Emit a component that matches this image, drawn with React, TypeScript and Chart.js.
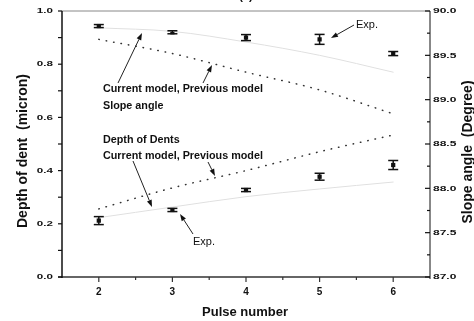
import React, { useEffect, useRef } from 'react';
import { Chart, registerables } from 'chart.js';
Chart.register(...registerables);

// ---- data ----
const pulses = [2, 3, 4, 5, 6];
const slopeExp = [89.83, 89.76, 89.7, 89.68, 89.52];
const slopeExpErr = [0.017, 0.017, 0.034, 0.056, 0.023];
const slopeCurrent = [89.81, 89.77, 89.65, 89.5, 89.31];
const slopePrevious = [89.68, 89.52, 89.31, 89.11, 88.84];
const depthExp = [0.212, 0.252, 0.327, 0.377, 0.421];
const depthExpErr = [0.015, 0.006, 0.006, 0.013, 0.017];
const depthCurrent = [0.223, 0.263, 0.302, 0.331, 0.357];
const depthPrevious = [0.256, 0.335, 0.4, 0.471, 0.534];
const xTicks = [2, 3, 4, 5, 6];
const depthTicks = [0, 0.2, 0.4, 0.6, 0.8, 1.0];
const slopeTicks = [87.0, 87.5, 88.0, 88.5, 89.0, 89.5, 90.0];

const FONT = '"Liberation Sans", Arial, sans-serif';

const mids = (a: number[]) => a.slice(1).map((v, i) => (v + a[i]) / 2);

function seg(ctx: CanvasRenderingContext2D, x1: number, y1: number, x2: number, y2: number, color: string, w: number) {
  ctx.save();
  ctx.strokeStyle = color;
  ctx.lineWidth = w;
  ctx.beginPath();
  ctx.moveTo(x1, y1);
  ctx.lineTo(x2, y2);
  ctx.stroke();
  ctx.restore();
}

function arrow(ctx: CanvasRenderingContext2D, x1: number, y1: number, x2: number, y2: number) {
  const ang = Math.atan2(y2 - y1, x2 - x1);
  const L = 7, W = 2.5;
  const bx = x2 - L * Math.cos(ang), by = y2 - L * Math.sin(ang);
  seg(ctx, x1, y1, bx, by, '#222', 1);
  ctx.save();
  ctx.fillStyle = '#111';
  ctx.beginPath();
  ctx.moveTo(x2, y2);
  ctx.lineTo(bx + W * Math.sin(ang), by - W * Math.cos(ang));
  ctx.lineTo(bx - W * Math.sin(ang), by + W * Math.cos(ang));
  ctx.closePath();
  ctx.fill();
  ctx.restore();
}

function text(ctx: CanvasRenderingContext2D, s: string, x: number, y: number, font: string, align: CanvasTextAlign, baseline: CanvasTextBaseline, sx = 1, rot = 0) {
  ctx.save();
  ctx.translate(x, y);
  if (rot) ctx.rotate(rot);
  ctx.scale(sx, 1);
  ctx.font = font;
  ctx.fillStyle = '#111';
  ctx.textAlign = align;
  ctx.textBaseline = baseline;
  ctx.fillText(s, 0, 0);
  ctx.restore();
}

const decorPlugin = {
  id: 'decor',
  afterDatasetsDraw(chart: any) {
    const ctx = chart.ctx as CanvasRenderingContext2D;
    const xs = chart.scales.x, yl = chart.scales.y, yr = chart.scales.y2;
    const bars = (vals: number[], errs: number[], sc: any) => {
      vals.forEach((v, i) => {
        const px = xs.getPixelForValue(pulses[i]);
        const t = sc.getPixelForValue(v + errs[i]);
        const b = sc.getPixelForValue(v - errs[i]);
        seg(ctx, px, t, px, b, '#111', 1.5);
        seg(ctx, px - 5, t, px + 5, t, '#111', 1.5);
        seg(ctx, px - 5, b, px + 5, b, '#111', 1.5);
      });
    };
    bars(slopeExp, slopeExpErr, yr);
    bars(depthExp, depthExpErr, yl);
  },
  afterDraw(chart: any) {
    const ctx = chart.ctx as CanvasRenderingContext2D;
    const ca = chart.chartArea;
    const xs = chart.scales.x, yl = chart.scales.y, yr = chart.scales.y2;

    // frame
    seg(ctx, ca.left, ca.top, ca.right, ca.top, '#888', 1);
    seg(ctx, ca.left - 4, ca.bottom, ca.right, ca.bottom, '#666', 2);
    seg(ctx, ca.left, ca.top, ca.left, ca.bottom + 1, '#111', 1.5);
    seg(ctx, ca.right, ca.top, ca.right, ca.bottom + 2, '#111', 1);

    // left ticks + labels
    depthTicks.forEach((v) => {
      const py = yl.getPixelForValue(v);
      seg(ctx, ca.left - 4, py, ca.left, py, '#111', 1.2);
      text(ctx, v.toFixed(1), ca.left - 9, py, `bold 8px ${FONT}`, 'right', 'middle', 1.45);
    });
    mids(depthTicks).forEach((v) => {
      const py = yl.getPixelForValue(v);
      seg(ctx, ca.left - 4, py, ca.left, py, '#111', 1.2);
    });
    // right ticks + labels (inward)
    slopeTicks.forEach((v) => {
      const py = yr.getPixelForValue(v);
      seg(ctx, ca.right - 5, py, ca.right, py, '#111', 1.2);
      text(ctx, v.toFixed(1), ca.right + 3, py, `bold 8px ${FONT}`, 'left', 'middle', 1.5);
    });
    mids(slopeTicks).forEach((v) => {
      const py = yr.getPixelForValue(v);
      seg(ctx, ca.right - 3, py, ca.right, py, '#111', 1.2);
    });
    // bottom ticks + labels
    xTicks.forEach((v) => {
      const px = xs.getPixelForValue(v);
      seg(ctx, px, ca.bottom, px, ca.bottom + 5, '#333', 1.2);
      text(ctx, String(v), px, ca.bottom + 15, `bold 10px ${FONT}`, 'center', 'middle');
    });
    mids(xTicks).forEach((v) => {
      const px = xs.getPixelForValue(v);
      seg(ctx, px, ca.bottom, px, ca.bottom + 3, '#333', 1.2);
    });

    // axis titles
    text(ctx, 'Depth of dent  (micron)', 27, 151, `bold 14px ${FONT}`, 'center', 'alphabetic', 1, -Math.PI / 2);
    text(ctx, 'Slope angle  (Degree)', 472, 152, `bold 14px ${FONT}`, 'center', 'alphabetic', 1, -Math.PI / 2);
    text(ctx, 'Pulse number', 245, 316, `bold 13px ${FONT}`, 'center', 'alphabetic');
    text(ctx, '(a)', 246, 0, `bold 11px ${FONT}`, 'center', 'alphabetic');

    // annotations
    const bf = `bold 11px ${FONT}`;
    text(ctx, 'Current model, Previous model', 103, 89, bf, 'left', 'middle', 0.98);
    text(ctx, 'Slope angle', 103, 106, bf, 'left', 'middle', 0.98);
    text(ctx, 'Depth of Dents', 103, 140, bf, 'left', 'middle', 0.98);
    text(ctx, 'Current model, Previous model', 103, 156, bf, 'left', 'middle', 0.98);
    text(ctx, 'Exp.', 356, 25, `11px ${FONT}`, 'left', 'middle');
    text(ctx, 'Exp.', 193, 242, `11px ${FONT}`, 'left', 'middle');

    arrow(ctx, 118, 83, 142, 33);
    arrow(ctx, 203, 83, 212, 65);
    arrow(ctx, 354, 25, 331, 38);
    arrow(ctx, 133, 161, 152, 207);
    arrow(ctx, 208, 162, 215, 176);
    arrow(ctx, 193, 234, 180, 214);
  },
};

export default function App() {
  const ref = useRef<HTMLCanvasElement>(null);
  useEffect(() => {
    if (!ref.current) return;
    const pts = (ys: number[]) => pulses.map((x, i) => ({ x, y: ys[i] }));
    const lineDs = (ys: number[], axis: string, color: string, width: number, dash: number[]) => ({
      type: 'line' as const,
      data: pts(ys),
      yAxisID: axis,
      borderColor: color,
      borderWidth: width,
      borderDash: dash,
      borderCapStyle: 'round' as const,
      pointRadius: 0,
      tension: 0.4,
      cubicInterpolationMode: 'monotone' as const,
      fill: false,
    });
    const ptDs = (ys: number[], axis: string) => ({
      type: 'line' as const,
      data: pts(ys),
      yAxisID: axis,
      showLine: false,
      pointStyle: 'rect' as const,
      pointRadius: 3,
      pointBackgroundColor: '#111',
      pointBorderColor: '#111',
      pointBorderWidth: 0,
    });
    const chart = new Chart(ref.current, {
      type: 'line',
      data: {
        datasets: [
          lineDs(slopeCurrent, 'y2', '#e0e0e0', 1, []),
          lineDs(slopePrevious, 'y2', '#333', 1.5, [0.5, 7]),
          lineDs(depthCurrent, 'y', '#e0e0e0', 1, []),
          lineDs(depthPrevious, 'y', '#333', 1.5, [0.5, 7]),
          ptDs(slopeExp, 'y2'),
          ptDs(depthExp, 'y'),
        ] as any,
      },
      options: {
        animation: false,
        responsive: false,
        layout: { padding: { top: 11, left: 0, right: 0, bottom: 0 } },
        plugins: { legend: { display: false }, tooltip: { enabled: false }, title: { display: false } },
        scales: {
          x: {
            type: 'linear', min: 1.5, max: 6.5,
            grid: { display: false }, border: { display: false }, ticks: { display: false },
            afterFit: (s: any) => { s.height = 44; },
          },
          y: {
            type: 'linear', position: 'left', min: 0, max: 1,
            grid: { display: false }, border: { display: false }, ticks: { display: false },
            afterFit: (s: any) => { s.width = 62; },
          },
          y2: {
            type: 'linear', position: 'right', min: 87, max: 90,
            grid: { display: false }, border: { display: false }, ticks: { display: false },
            afterFit: (s: any) => { s.width = 44; },
          },
        },
      } as any,
      plugins: [decorPlugin],
    });
    return () => chart.destroy();
  }, []);
  return (
    <div style={{ position: 'fixed', left: 0, top: 0, width: 474, height: 321, background: '#fff' }}>
      <canvas ref={ref} width={474} height={321} style={{ display: 'block' }} />
    </div>
  );
}
